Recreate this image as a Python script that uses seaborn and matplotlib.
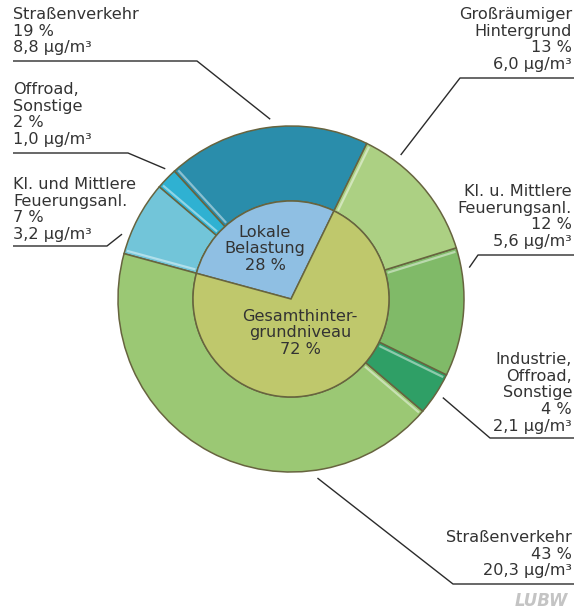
import matplotlib
matplotlib.use("Agg")
import matplotlib.pyplot as plt
import seaborn as sns
import numpy as np

# Anteile (Prozent) innerer Ring
inner_labels = ["Lokale\nBelastung", "Gesamthinter-\ngrundniveau"]
inner_values = [28, 72]

# Anteile (Prozent) äußerer Ring, gegen den Uhrzeigersinn
outer_names = ["Straßenverkehr", "Offroad,\nSonstige", "Kl. und Mittlere\nFeuerungsanl.",
               "Straßenverkehr", "Industrie,\nOffroad,\nSonstige",
               "Kl. u. Mittlere\nFeuerungsanl.", "Großräumiger\nHintergrund"]
outer_values = [19, 2, 7, 43, 4, 12, 13]
outer_conc = ["8,8", "1,0", "3,2", "20,3", "2,1", "5,6", "6,0"]

inner_colors = ["#8fbfe3", "#bfc86c"]
outer_colors = ["#2a8dab", "#2fb1d2", "#72c5d9", "#9bc874", "#2f9f66", "#80ba68", "#acd083"]

sns.set_theme(style="white")
plt.rcParams["font.family"] = ["DejaVu Sans"]

W, H = 574, 615
fig = plt.figure(figsize=(W / 100, H / 100), dpi=100)
ax = fig.add_axes([0, 0, 1, 1])

def py(y):
    # Pixelzeile -> Datenkoordinate
    return H - y

cx, cy = 291, py(299)
R, r_in = 173, 98
edge = "#67643f"

outer_wedges, _ = ax.pie(outer_values, radius=R, center=(cx, cy), startangle=64,
                         colors=outer_colors,
                         wedgeprops=dict(width=R - r_in, edgecolor=edge, linewidth=1.1))
inner_wedges, _ = ax.pie(inner_values, radius=r_in, center=(cx, cy), startangle=64,
                         colors=inner_colors,
                         wedgeprops=dict(edgecolor=edge, linewidth=1.1))

# heller Glanzstreifen entlang der Endkante jedes Außensegments
for w, col in zip(outer_wedges, outer_colors):
    t = np.deg2rad(w.theta2)
    rgb = np.array(matplotlib.colors.to_rgb(col))
    light = rgb + (1 - rgb) * 0.45
    off = 3.5
    nx, ny = np.sin(t), -np.cos(t)
    xs = [cx + r * np.cos(t) + off * nx for r in (r_in + 2, R - 2)]
    ys = [cy + r * np.sin(t) + off * ny for r in (r_in + 2, R - 2)]
    ax.plot(xs, ys, color=light, lw=1.6, solid_capstyle="butt", zorder=3)

ax.set_xlim(0, W)
ax.set_ylim(0, H)
ax.set_aspect("equal")
ax.axis("off")

txt_color = "#333333"
fs = 11.6

# innere Beschriftung
inner_pos = [(265, 249), (300, 333)]
for lab, val, (x, y) in zip(inner_labels, inner_values, inner_pos):
    ax.text(x, py(y), f"{lab}\n{val} %", ha="center", va="center",
            fontsize=fs, color=txt_color, linespacing=1.1, zorder=5)

# Beschriftung außen: Ankerwinkel, Knickpunkt, Linienende, Textposition
layout = [
    dict(ang=96.6, elbow=(197, 61), end=13, text=(13, 7), ha="left"),
    dict(ang=134, elbow=(128, 153), end=13, text=(13, 82), ha="left"),
    dict(ang=159, elbow=(107, 246), end=13, text=(13, 177), ha="left"),
    dict(ang=278.4, elbow=(453, 584), end=574, text=(572, 530), ha="right"),
    dict(ang=327, elbow=(490, 438), end=574, text=(572, 352), ha="right"),
    dict(ang=10, elbow=(478, 255), end=574, text=(572, 184), ha="right"),
    dict(ang=52.7, elbow=(460, 78), end=574, text=(572, 7), ha="right"),
]

for name, val, conc, lay in zip(outer_names, outer_values, outer_conc, layout):
    a = np.deg2rad(lay["ang"])
    ax_, ay_ = cx + 181 * np.cos(a), cy + 181 * np.sin(a)
    ex, ey = lay["elbow"]
    ax.plot([ax_, ex, lay["end"]], [ay_, py(ey), py(ey)], color="#2b2b2b", lw=1.0,
            solid_capstyle="butt")
    tx, ty = lay["text"]
    ax.text(tx, py(ty), f"{name}\n{val} %\n{conc} µg/m³", ha=lay["ha"], va="top",
            multialignment=lay["ha"], fontsize=fs, color=txt_color, linespacing=1.14)

ax.text(568, py(601), "LUBW", ha="right", va="center", fontsize=12, color="#c4c4c4",
        fontweight="bold", fontstyle="italic")

fig.savefig("out.png", dpi=100)
